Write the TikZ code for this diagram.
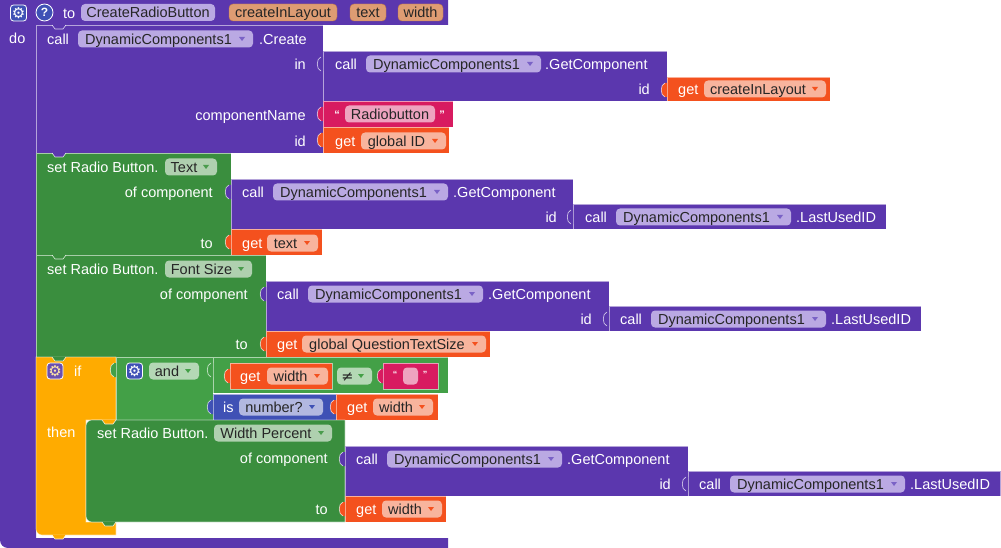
\documentclass[tikz,border=0pt]{standalone}
\usepackage{fontspec}
\setmainfont{Liberation Sans}
\newfontfamily\symfont{DejaVu Sans}
\usepackage{tikz}
\usetikzlibrary{positioning}

\definecolor{procpurple}{HTML}{5B37AE}
\definecolor{pillpurple}{HTML}{BAA9E3}
\definecolor{arrowpurple}{HTML}{7A62C6}
\definecolor{parampill}{HTML}{DE9C73}
\definecolor{paramedge}{HTML}{C57A45}
\definecolor{iconblue}{HTML}{3F51B5}
\definecolor{setgreen}{HTML}{3A8E3E}
\definecolor{setpill}{HTML}{AFD0AF}
\definecolor{setarrow}{HTML}{4A9C4D}
\definecolor{getorange}{HTML}{F4511E}
\definecolor{getpill}{HTML}{F8B49D}
\definecolor{textmagenta}{HTML}{D81B60}
\definecolor{textpill}{HTML}{EEA3BF}
\definecolor{ifyellow}{HTML}{FFAB00}
\definecolor{ifgear}{HTML}{6A4FB0}
\definecolor{ifgearfg}{HTML}{FFE7A8}
\definecolor{andgreen}{HTML}{43A047}
\definecolor{andpill}{HTML}{B4D8B5}
\definecolor{isblue}{HTML}{3F51B5}
\definecolor{ispill}{HTML}{B2B8E0}

\tikzset{
    lbl/.style={anchor=west, text=white, inner sep=0pt, text height=10.4pt, text depth=0pt, font=\fontsize{14.5}{17}\selectfont},
    pill/.style={rounded corners=4pt, text=black!85, inner xsep=0pt, inner ysep=0pt, minimum height=17pt, text height=10.4pt, text depth=0pt, font=\fontsize{14.5}{17}\selectfont},
    blk/.style={draw=white, draw opacity=0.55, line width=0.6pt},
    icon/.style={rounded corners=3pt, draw=white, line width=0.8pt, minimum size=16pt, inner sep=0pt},
    quote/.style={anchor=base, text=white, inner sep=0pt, font=\bfseries\fontsize{11}{12}\selectfont}
}

\newcommand{\blockrect}[5]{\path[blk, fill=#5] (#1,#2) rectangle (#3,#4);}
\newcommand{\valtab}[3]{%
    \fill[#3] (#1,{#2+6}) -- ({#1-2},{#2+6}) .. controls ({#1-7},{#2+7}) and ({#1-7},{#2+19}) .. ({#1-2},{#2+20}) -- (#1,{#2+20}) -- cycle;
    \draw[white, opacity=0.8, line width=0.6pt] ({#1-2},{#2+6}) .. controls ({#1-7},{#2+7}) and ({#1-7},{#2+19}) .. ({#1-2},{#2+20});
}
\newcommand{\nextnotch}[3]{%
    \fill[#3] ({#1+16},{#2-0.5}) -- ({#1+19},{#2+4}) -- ({#1+27},{#2+4}) -- ({#1+30},{#2-0.5}) -- cycle;
    \draw[white, opacity=0.8, line width=0.6pt] ({#1+16},#2) -- ({#1+19},{#2+4}) -- ({#1+27},{#2+4}) -- ({#1+30},#2);
}
\newcommand{\ddpill}[7]{%
    \node[pill, fill=#5, minimum width={(#3-#2)*1pt}] (#1) at ({(#2+#3)/2},#4) {#7\kern14pt};
    \fill[#6] ({#3-14},{#4-2}) -- ({#3-8},{#4-2}) -- ({#3-11},{#4+2}) -- cycle;
}
\newcommand{\flatpill}[6]{%
    \node[pill, fill=#5, minimum width={(#3-#2)*1pt}] (#1) at ({(#2+#3)/2},#4) {#6};
}
\newcommand{\gear}{{\symfont\fontsize{15}{15}\selectfont ⚙}}

\begin{document}
\begin{tikzpicture}[x=1pt, y=-1pt]
\useasboundingbox (0,0) rectangle (1001,548);

% procedure frame
\fill[procpurple] (0,0) -- (448,0) -- (448,25) -- (36,25) -- (36,538) -- (448,538) -- (448,548) -- (8,548) .. controls (3.6,548) and (0,544.4) .. (0,540) -- cycle;
\node[icon, fill=iconblue, text=white] (hdGear) at (18.5,13) {\gear};
\node[circle, draw=white, line width=0.8pt, fill=iconblue, minimum size=17pt, inner sep=0pt, text=white, font=\bfseries\fontsize{12}{12}\selectfont] (hdHelp) at (44.5,12.5) {?};
\node[lbl] (hdTo) at (63,13) {to};
\flatpill{hdName}{81}{215}{12.5}{pillpurple}{CreateRadioButton}
\node[pill, fill=parampill, draw=paramedge, minimum width=108pt] (pLayout) at (283,12.5) {createInLayout};
\node[pill, fill=parampill, draw=paramedge, minimum width=36pt] (pText) at (368,12.5) {text};
\node[pill, fill=parampill, draw=paramedge, minimum width=45pt] (pWidth) at (420.5,12.5) {width};
\node[lbl] (hdDo) at (9,38) {do};

% call Create
\blockrect{36}{25}{323}{153}{procpurple}
\nextnotch{36}{25}{procpurple}
\node[lbl] (crCall) at (47,39) {call};
\ddpill{crComp}{78}{253}{39}{pillpurple}{arrowpurple}{DynamicComponents1}
\node[lbl] (crName) at (259,39) {.Create};
\node[lbl, anchor=east] (crIn) at (306,64) {in};
\node[lbl, anchor=east] (crCompName) at (306,115) {componentName};
\node[lbl, anchor=east] (crId) at (306,141) {id};

\blockrect{323}{51}{667}{101}{procpurple}
\valtab{323}{51}{procpurple}
\node[lbl] (gc1Call) at (335,64) {call};
\ddpill{gc1Comp}{366}{541}{64}{pillpurple}{arrowpurple}{DynamicComponents1}
\node[lbl] (gc1Name) at (545,64) {.GetComponent};
\node[lbl, anchor=east] (gc1Id) at (650,89) {id};
\blockrect{667}{77}{830}{101}{getorange}
\valtab{667}{77}{getorange}
\node[lbl] (g1Get) at (678,89) {get};
\ddpill{g1Var}{704}{826}{89}{getpill}{getorange}{createInLayout}

\blockrect{323}{101}{453}{127}{textmagenta}
\valtab{323}{101}{textmagenta}
\node[quote] (t1Open) at (337,119) {“};
\flatpill{t1Str}{345}{435}{114}{textpill}{Radiobutton}
\node[quote] (t1Close) at (442,119) {”};

\blockrect{323}{127}{449}{153}{getorange}
\valtab{323}{127}{getorange}
\node[lbl] (g2Get) at (335,141) {get};
\ddpill{g2Var}{361}{446}{141}{getpill}{getorange}{global ID}

% set Text
\blockrect{36}{153}{231}{255}{setgreen}
\nextnotch{36}{153}{procpurple}
\node[lbl] (s1Set) at (47,167) {set Radio Button.};
\ddpill{s1Prop}{165}{217}{167}{setpill}{setarrow}{Text}
\node[lbl, anchor=east] (s1Of) at (213,192) {of component};
\node[lbl, anchor=east] (s1To) at (213,243) {to};
\blockrect{231}{179}{573}{229}{procpurple}
\valtab{231}{179}{procpurple}
\node[lbl] (gc2Call) at (242,192) {call};
\ddpill{gc2Comp}{273}{448}{192}{pillpurple}{arrowpurple}{DynamicComponents1}
\node[lbl] (gc2Name) at (453,192) {.GetComponent};
\node[lbl, anchor=east] (gc2Id) at (557,217) {id};
\blockrect{573}{204}{886}{229}{procpurple}
\valtab{573}{204}{procpurple}
\node[lbl] (lu1Call) at (585,217) {call};
\ddpill{lu1Comp}{616}{791}{217}{pillpurple}{arrowpurple}{DynamicComponents1}
\node[lbl] (lu1Name) at (796,217) {.LastUsedID};
\blockrect{231}{229}{322}{255}{getorange}
\valtab{231}{229}{getorange}
\node[lbl] (g3Get) at (242,243) {get};
\ddpill{g3Var}{267}{318}{243}{getpill}{getorange}{text}

% set Font Size
\blockrect{36}{255}{266}{357}{setgreen}
\nextnotch{36}{255}{setgreen}
\node[lbl] (s2Set) at (47,269) {set Radio Button.};
\ddpill{s2Prop}{165}{252}{269}{setpill}{setarrow}{Font Size}
\node[lbl, anchor=east] (s2Of) at (248,294) {of component};
\node[lbl, anchor=east] (s2To) at (248,344) {to};
\blockrect{266}{281}{609}{331}{procpurple}
\valtab{266}{281}{procpurple}
\node[lbl] (gc3Call) at (277,294) {call};
\ddpill{gc3Comp}{308}{483}{294}{pillpurple}{arrowpurple}{DynamicComponents1}
\node[lbl] (gc3Name) at (488,294) {.GetComponent};
\node[lbl, anchor=east] (gc3Id) at (592,319) {id};
\blockrect{609}{306}{921}{331}{procpurple}
\valtab{609}{306}{procpurple}
\node[lbl] (lu2Call) at (620,319) {call};
\ddpill{lu2Comp}{651}{826}{319}{pillpurple}{arrowpurple}{DynamicComponents1}
\node[lbl] (lu2Name) at (831,319) {.LastUsedID};
\blockrect{266}{331}{490}{357}{getorange}
\valtab{266}{331}{getorange}
\node[lbl] (g4Get) at (277,344) {get};
\ddpill{g4Var}{302}{486}{344}{getpill}{getorange}{global QuestionTextSize}

% if / then
\path[blk, fill=ifyellow] (36,357) -- (116,357) -- (116,420) -- (86,420) -- (86,522) -- (116,522) -- (116,535) -- (42,535) .. controls (38.7,535) and (36,532.3) .. (36,529) -- cycle;
\nextnotch{36}{357}{setgreen}
\node[icon, fill=ifgear, text=ifgearfg] (ifGear) at (55,371) {\gear};
\node[lbl] (ifIf) at (74,371) {if};
\node[lbl] (ifThen) at (47,432) {then};

\blockrect{116}{357}{213}{420}{andgreen}
\valtab{116}{357}{andgreen}
\node[icon, fill=iconblue, text=white] (andGear) at (134.5,371) {\gear};
\ddpill{andOp}{149}{199}{371}{andpill}{andgreen}{and}

\blockrect{213}{357}{448}{393}{andgreen}
\valtab{213}{357}{andgreen}
\blockrect{230}{363}{332}{389}{getorange}
\valtab{230}{363}{getorange}
\node[lbl] (g5Get) at (240,376) {get};
\ddpill{g5Var}{267}{328}{376}{getpill}{getorange}{width}
\ddpill{neOp}{337}{372}{376}{andpill}{andgreen}{{\symfont ≠}}
\blockrect{383}{363}{438}{389}{textmagenta}
\valtab{383}{363}{textmagenta}
\node[quote, font=\bfseries\fontsize{9}{10}\selectfont] (t2Open) at (395,377) {“};
\flatpill{t2Str}{403}{418}{376}{textpill}{}
\node[quote, font=\bfseries\fontsize{9}{10}\selectfont] (t2Close) at (425,377) {”};

\blockrect{213}{394}{336}{420}{isblue}
\valtab{213}{394}{isblue}
\node[lbl] (isIs) at (223,407) {is};
\ddpill{isOp}{239}{323}{407}{ispill}{isblue}{number?}
\blockrect{336}{394}{438}{420}{getorange}
\valtab{336}{394}{getorange}
\node[lbl] (g6Get) at (347,407) {get};
\ddpill{g6Var}{373}{433}{407}{getpill}{getorange}{width}

% set Width Percent
\path[blk, fill=setgreen] (92,420) -- (345,420) -- (345,522) -- (92,522) .. controls (88.7,522) and (86,519.3) .. (86,516) -- (86,426) .. controls (86,422.7) and (88.7,420) .. (92,420) -- cycle;
\nextnotch{86}{420}{ifyellow}
\node[lbl] (s3Set) at (97,433) {set Radio Button.};
\ddpill{s3Prop}{214}{332}{433}{setpill}{setarrow}{Width Percent}
\node[lbl, anchor=east] (s3Of) at (328,458) {of component};
\node[lbl, anchor=east] (s3To) at (328,509) {to};
\blockrect{345}{446}{688}{496}{procpurple}
\valtab{345}{446}{procpurple}
\node[lbl] (gc4Call) at (356,459) {call};
\ddpill{gc4Comp}{387}{562}{459}{pillpurple}{arrowpurple}{DynamicComponents1}
\node[lbl] (gc4Name) at (567,459) {.GetComponent};
\node[lbl, anchor=east] (gc4Id) at (671,484) {id};
\blockrect{688}{471}{1000.5}{496}{procpurple}
\valtab{688}{471}{procpurple}
\node[lbl] (lu3Call) at (699,484) {call};
\ddpill{lu3Comp}{730}{905}{484}{pillpurple}{arrowpurple}{DynamicComponents1}
\node[lbl] (lu3Name) at (910,484) {.LastUsedID};
\blockrect{345}{496}{446}{522}{getorange}
\valtab{345}{496}{getorange}
\node[lbl] (g7Get) at (356,509) {get};
\ddpill{g7Var}{382}{442}{509}{getpill}{getorange}{width}

\nextnotch{86}{522}{setgreen}
\nextnotch{36}{535}{ifyellow}
\end{tikzpicture}
\end{document}
